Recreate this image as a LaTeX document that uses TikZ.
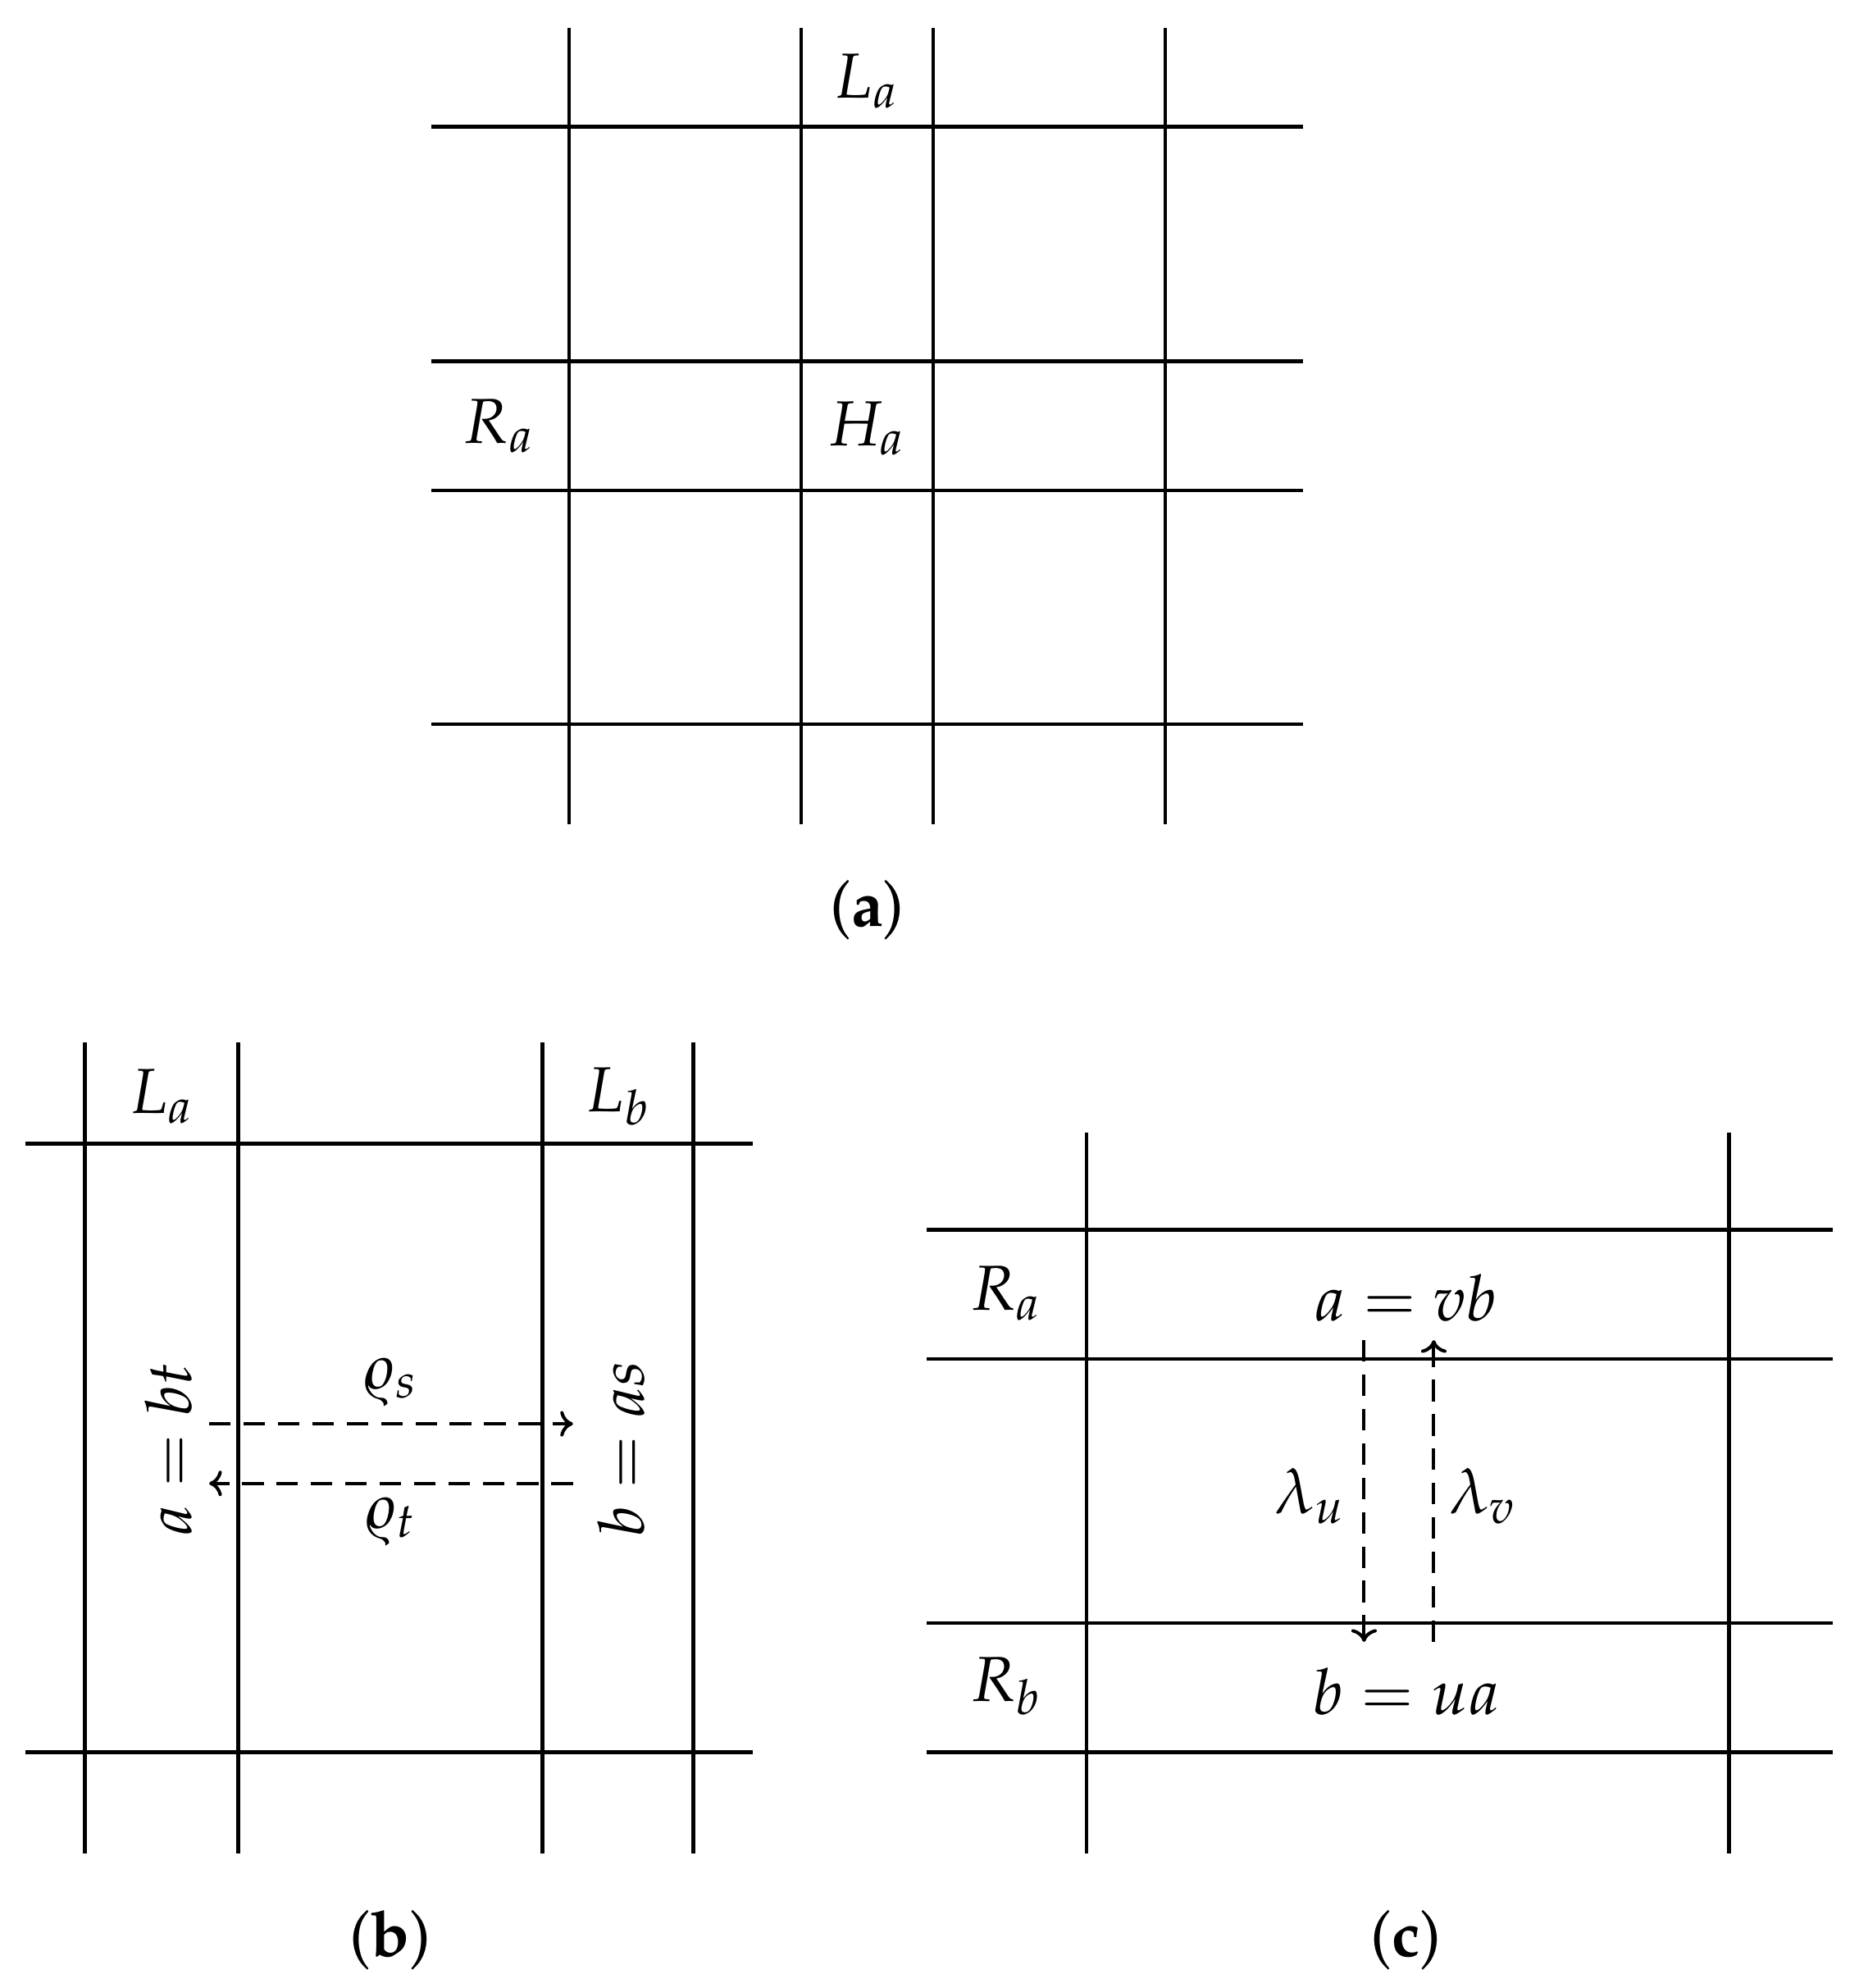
\documentclass[tikz,border=0pt]{standalone}
\usepackage[T1]{fontenc}
\usepackage{mathpazo}
\usepackage{tikz}
\usetikzlibrary{calc}
\usetikzlibrary{arrows.meta}

\begin{document}
\begin{tikzpicture}[x=0.07mm,y=-0.07mm]
\def\lw{0.56pt}
\def\dlw{0.52pt}
\tikzset{gridline/.style={line width=\lw},
         flow/.style={dash pattern=on 3.4pt off 2pt,line width=\dlw,
                      -{To[length=2pt,width=4pt]}},
         lab/.style={inner sep=1pt}}
\useasboundingbox (0,0) rectangle (1466,1568);

% (a)
\draw[gridline] (449,22) -- (449,650);
\draw[gridline] (632,22) -- (632,650);
\draw[gridline] (736,22) -- (736,650);
\draw[gridline] (919,22) -- (919,650);
\draw[gridline] (340,100) -- (1028,100);
\draw[gridline] (340,285) -- (1028,285);
\draw[gridline] (340,387) -- (1028,387);
\draw[gridline] (340,571) -- (1028,571);
\node[lab] (La) at (684,64) {$L_a$};
\node[lab] (Ra) at (394,336) {$R_a$};
\node[lab] (Ha) at (684,338) {$H_a$};
\node (capa) at (684,718) {(\textbf{a})};

% (b)
\draw[gridline] (67,822) -- (67,1462);
\draw[gridline] (188,822) -- (188,1462);
\draw[gridline] (428,822) -- (428,1462);
\draw[gridline] (547,822) -- (547,1462);
\draw[gridline] (20,902) -- (594,902);
\draw[gridline] (20,1382) -- (594,1382);
\node[lab] (Lab) at (128,865) {$L_a$};
\node[lab] (Lbb) at (488,865) {$L_b$};
\node[lab,rotate=90] (abt) at (133,1143) {$a=bt$};
\node[lab,rotate=90] (bas) at (490,1143) {$b=as$};
\node[lab] (rhos) at (308,1090) {$\varrho_s$};
\node[lab] (rhot) at (308,1200) {$\varrho_t$};
\coordinate (s0) at (165,1123);
\coordinate (s1) at (452,1123);
\coordinate (t0) at (452,1170);
\coordinate (t1) at (165,1170);
\draw[flow] (s0) -- (s1);
\draw[flow] (t0) -- (t1);
\node (capb) at (308,1530) {(\textbf{b})};

% (c)
\draw[gridline] (857,893) -- (857,1462);
\draw[gridline] (1364,893) -- (1364,1462);
\draw[gridline] (731,970) -- (1446,970);
\draw[gridline] (731,1072) -- (1446,1072);
\draw[gridline] (731,1280) -- (1446,1280);
\draw[gridline] (731,1382) -- (1446,1382);
\node[lab] (Rac) at (794,1020) {$R_a$};
\node[lab] (Rbc) at (794,1330) {$R_b$};
\node[lab] (avb) at (1109,1024) {$a=\mathit{v}b$};
\node[lab] (bua) at (1109,1334) {$b=ua$};
\node[lab] (lamu) at (1034,1180) {$\lambda_u$};
\node[lab] (lamv) at (1170,1180) {$\lambda_{\mathit{v}}$};
\coordinate (u0) at (1076,1057);
\coordinate (u1) at (1076,1295);
\coordinate (v0) at (1131,1295);
\coordinate (v1) at (1131,1057);
\draw[flow] (u0) -- (u1);
\draw[flow] (v0) -- (v1);
\node (capc) at (1109,1530) {(\textbf{c})};

\end{tikzpicture}
\end{document}
